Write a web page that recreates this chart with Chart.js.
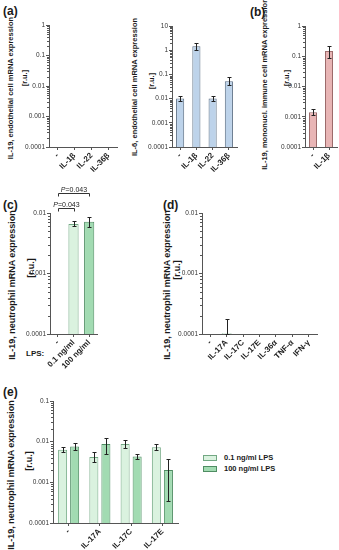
<!DOCTYPE html>
<html>
<head>
<meta charset="utf-8">
<script src="https://cdn.jsdelivr.net/npm/chart.js@4.4.1/dist/chart.umd.min.js"></script>
<style>
  html, body { margin: 0; padding: 0; background: #fff; }
  body { width: 339px; height: 550px; position: relative; overflow: hidden;
         font-family: "Liberation Sans", Arial, sans-serif; color: #1a1a1a; }
  canvas { position: absolute; }
  .tag { position: absolute; font-weight: bold; font-size: 12px; line-height: 12px; }
  /* fixed 200x10 box centred on left/top, then turned */
  .yline { position: absolute; width: 200px; height: 10px; line-height: 10px;
           margin-left: -100px; margin-top: -5px; text-align: center;
           font-weight: bold; white-space: nowrap; transform: rotate(-90deg); }
  .legend { position: absolute; font-weight: bold; font-size: 7.5px; }
  .legend div { display: flex; align-items: center; height: 11px; }
  .legend span.box { display: inline-block; width: 12px; height: 4px; margin-right: 7px; border: 1px solid; }
</style>
</head>
<body>
<div class="tag" style="left:3px;top:5px">(a)</div>
<div class="tag" style="left:250px;top:6px">(b)</div>
<div class="tag" style="left:3px;top:199px">(c)</div>
<div class="tag" style="left:163px;top:199px">(d)</div>
<div class="tag" style="left:3px;top:386px">(e)</div>

<!-- y axis titles, one rotated line each: centre x / centre y -->
<div class="yline" style="left:11px;top:88px;font-size:7.5px">IL-19, endothelial cell mRNA expression</div>
<div class="yline" style="left:25px;top:78px;font-size:7.5px">[r.u.]</div>
<div class="yline" style="left:135px;top:87px;font-size:7.5px">IL-6, endothelial cell mRNA expression</div>
<div class="yline" style="left:152px;top:81px;font-size:7.5px">[r.u.]</div>
<div class="yline" style="left:265px;top:84px;font-size:7.5px">IL-19, mononucl. immune cell mRNA expression</div>
<div class="yline" style="left:287px;top:78px;font-size:7.5px">[r.u.]</div>
<div class="yline" style="left:12px;top:285px;font-size:9px">IL-19, neutrophil mRNA expression</div>
<div class="yline" style="left:31px;top:268px;font-size:9px">[r.u.]</div>
<div class="yline" style="left:167px;top:285px;font-size:9px">IL-19, neutrophil mRNA expression</div>
<div class="yline" style="left:177px;top:270px;font-size:9px">[r.u.]</div>
<div class="yline" style="left:11px;top:475px;font-size:9px">IL-19, neutrophil mRNA expression</div>
<div class="yline" style="left:29px;top:461px;font-size:9px">[r.u.]</div>

<div class="tag" style="left:26px;top:348px;font-size:8px">LPS:</div>

<canvas id="chartA"></canvas>
<canvas id="chartIL6"></canvas>
<canvas id="chartB"></canvas>
<canvas id="chartC"></canvas>
<canvas id="chartD"></canvas>
<canvas id="chartE"></canvas>
<div class="legend" id="legendE" style="left:203px;top:452px"></div>

<script>
// ---- data ----
const aLabels = ['-', 'IL-1β', 'IL-22', 'IL-36β'];
const aValues = [null, null, null, null];
const aTicks = [0.0001, 0.001, 0.01, 0.1, 1];

const il6Labels = ['-', 'IL-1β', 'IL-22', 'IL-36β'];
const il6Values = [0.0102, 1.45, 0.0101, 0.052];
const il6Low = [0.0082, 1.0, 0.0081, 0.036];
const il6High = [0.0133, 2.0, 0.013, 0.078];
const il6Ticks = [0.0001, 0.001, 0.01, 0.1, 1, 10];

const bLabels = ['-', 'IL-1β'];
const bValues = [0.0014, 0.15];
const bLow = [0.0011, 0.085];
const bHigh = [0.0018, 0.225];
const bTicks = [0.0001, 0.001, 0.01, 0.1, 1];

const cLabels = ['-', '0.1 ng/ml', '100 ng/ml'];
const cValues = [null, 0.0066, 0.0072];
const cLow = [null, 0.006, 0.0059];
const cHigh = [null, 0.0073, 0.0086];
const cTicks = [0.0001, 0.001, 0.01];

const dLabels = ['-', 'IL-17A', 'IL-17C', 'IL-17E', 'IL-36α', 'TNF-α', 'IFN-γ'];
const dValues = [null, 0.000103, null, null, null, null, null];
const dLow = [null, 0.0001, null, null, null, null, null];
const dHigh = [null, 0.00018, null, null, null, null, null];
const dTicks = [0.0001, 0.001, 0.01];

const eLabels = ['-', 'IL-17A', 'IL-17C', 'IL-17E'];
const eLowLps = [0.0063, 0.0042, 0.0088, 0.0073];
const eLowLpsLo = [0.0055, 0.0031, 0.0068, 0.0061];
const eLowLpsHi = [0.0072, 0.0055, 0.011, 0.0088];
const eHighLps = [0.0076, 0.0088, 0.0043, 0.002];
const eHighLpsLo = [0.0063, 0.005, 0.0038, 0.00035];
const eHighLpsHi = [0.0092, 0.0123, 0.0049, 0.0037];
const eTicks = [0.0001, 0.001, 0.01, 0.1];

const FONT = '"Liberation Sans", Arial, sans-serif';
Chart.defaults.font.family = FONT;
Chart.defaults.color = '#222';

// error bars from dataset.errLow / errHigh
const errorBars = {
  id: 'errorBars',
  afterDatasetsDraw(chart) {
    const ctx = chart.ctx, y = chart.scales.y;
    chart.data.datasets.forEach((ds, i) => {
      if (!ds.errLow) return;
      chart.getDatasetMeta(i).data.forEach((bar, j) => {
        const lo = ds.errLow[j], hi = ds.errHigh[j];
        if (lo == null || hi == null) return;
        const x = Math.round(bar.x) + 0.5;
        const y1 = Math.round(y.getPixelForValue(lo)) + 0.5;
        const y2 = Math.round(y.getPixelForValue(hi)) + 0.5;
        ctx.save();
        ctx.strokeStyle = '#222';
        ctx.lineWidth = 1;
        ctx.beginPath();
        ctx.moveTo(x, y1); ctx.lineTo(x, y2);
        ctx.moveTo(x - 2, y1); ctx.lineTo(x + 2, y1);
        ctx.moveTo(x - 2, y2); ctx.lineTo(x + 2, y2);
        ctx.stroke();
        ctx.restore();
      });
    });
  }
};

// short minor ticks on the log axis
const minorTicks = {
  id: 'minorTicks',
  afterDraw(chart) {
    const s = chart.scales.y, ctx = chart.ctx;
    const d0 = Math.round(Math.log10(s.min)), d1 = Math.round(Math.log10(s.max));
    ctx.save();
    ctx.strokeStyle = '#555';
    ctx.lineWidth = 1;
    ctx.beginPath();
    for (let d = d0; d < d1; d++) {
      for (let k = 2; k <= 9; k++) {
        const py = Math.round(s.getPixelForValue(k * Math.pow(10, d))) + 0.5;
        ctx.moveTo(s.right - 2, py); ctx.lineTo(s.right, py);
      }
    }
    ctx.stroke();
    ctx.restore();
  }
};

// significance brackets (offsets above the plot area)
const bracketPlugin = (list) => ({
  id: 'brackets',
  afterDraw(chart) {
    const ctx = chart.ctx, x = chart.scales.x, top = chart.chartArea.top;
    ctx.save();
    ctx.strokeStyle = '#333';
    ctx.fillStyle = '#222';
    ctx.lineWidth = 1;
    list.forEach(b => {
      const x1 = Math.round(x.getPixelForValue(b.from)) + 0.5;
      const x2 = Math.round(x.getPixelForValue(b.to)) + 0.5;
      const yy = Math.round(top - b.above) + 0.5;
      ctx.beginPath();
      ctx.moveTo(x1, yy + 3); ctx.lineTo(x1, yy); ctx.lineTo(x2, yy); ctx.lineTo(x2, yy + 3);
      ctx.stroke();
      ctx.font = 'italic 7px ' + FONT;
      const wp = ctx.measureText('P').width;
      ctx.font = '7px ' + FONT;
      const wr = ctx.measureText(b.text).width;
      let tx = (x1 + x2) / 2 - (wp + wr) / 2;
      ctx.textBaseline = 'alphabetic';
      ctx.font = 'italic 7px ' + FONT;
      ctx.fillText('P', tx, yy - 2);
      ctx.font = '7px ' + FONT;
      ctx.fillText(b.text, tx + wp, yy - 2);
    });
    ctx.restore();
  }
});

function makePanel(id, area, labels, datasets, yTicks, extra) {
  const e = extra || {};
  const yW = e.yW || 40, xH = e.xH || 40, padT = e.padT || 8, padR = e.padR || 6;
  const cv = document.getElementById(id);
  const w = yW + area.w + padR, h = padT + area.h + xH;
  cv.width = w; cv.height = h;
  cv.style.left = (area.x - yW) + 'px';
  cv.style.top = (area.y - padT) + 'px';
  cv.style.width = w + 'px';
  cv.style.height = h + 'px';
  const plugins = [errorBars, minorTicks];
  if (e.brackets) plugins.push(bracketPlugin(e.brackets));
  return new Chart(cv, {
    type: 'bar',
    data: { labels: labels, datasets: datasets },
    options: {
      responsive: false,
      animation: false,
      layout: { padding: { top: padT, right: padR, left: 0, bottom: 0 } },
      plugins: { legend: { display: false }, tooltip: { enabled: false } },
      scales: {
        x: {
          offset: true,
          afterFit: s => { s.height = xH; },
          ticks: { autoSkip: false, maxRotation: 45, minRotation: 45, padding: 1,
                   font: { size: 8, weight: 'bold' }, color: '#222' },
          grid: { offset: false, drawOnChartArea: false, tickLength: 3, color: '#555' },
          border: { color: '#555', width: 1 }
        },
        y: {
          type: 'logarithmic',
          min: yTicks[0],
          max: yTicks[yTicks.length - 1],
          afterFit: s => { s.width = yW; },
          afterBuildTicks: s => { s.ticks = yTicks.map(v => ({ value: v })); },
          ticks: { autoSkip: false, padding: 1, font: { size: 6.5 }, color: '#333',
                   callback: v => String(v) },
          grid: { drawOnChartArea: false, tickLength: 3, color: '#555' },
          border: { color: '#555', width: 1 }
        }
      }
    },
    plugins: plugins
  });
}

const blue = { backgroundColor: '#bdd3ea', borderColor: '#5c6f85', borderWidth: 1 };
const pink = { backgroundColor: '#e8b5b5', borderColor: '#9c6b6b', borderWidth: 1 };
const greenLight = { backgroundColor: '#daf2df', borderColor: '#72a883', borderWidth: 1 };
const greenDark = { backgroundColor: '#a2dbb2', borderColor: '#4f8d63', borderWidth: 1 };

makePanel('chartA', { x: 49, y: 25, w: 68, h: 122 }, aLabels,
  [Object.assign({ data: aValues, barPercentage: 0.5, categoryPercentage: 1 }, blue)], aTicks);

makePanel('chartIL6', { x: 172, y: 26, w: 65, h: 121 }, il6Labels,
  [Object.assign({ data: il6Values, errLow: il6Low, errHigh: il6High,
                   barPercentage: 0.5, categoryPercentage: 1 }, blue)], il6Ticks);

makePanel('chartB', { x: 305, y: 26, w: 32, h: 121 }, bLabels,
  [Object.assign({ data: bValues, errLow: bLow, errHigh: bHigh,
                   barPercentage: 0.5, categoryPercentage: 1 }, pink)], bTicks, { padR: 2 });

makePanel('chartC', { x: 50, y: 213, w: 47, h: 121 }, cLabels,
  [{ data: cValues, errLow: cLow, errHigh: cHigh, barPercentage: 0.65, categoryPercentage: 1,
     backgroundColor: ['#fff', greenLight.backgroundColor, greenDark.backgroundColor],
     borderColor: ['#fff', greenLight.borderColor, greenDark.borderColor], borderWidth: 1 }],
  cTicks, { padT: 33, xH: 45,
            brackets: [{ from: 0, to: 1, above: 5, text: '=0.043' },
                       { from: 0, to: 2, above: 20, text: '=0.043' }] });

makePanel('chartD', { x: 202, y: 213, w: 115, h: 121 }, dLabels,
  [Object.assign({ data: dValues, errLow: dLow, errHigh: dHigh,
                   barPercentage: 0.6, categoryPercentage: 1 }, greenLight)], dTicks);

const eDatasets = [
  Object.assign({ label: '0.1 ng/ml LPS', data: eLowLps, errLow: eLowLpsLo, errHigh: eLowLpsHi,
                  barPercentage: 0.75, categoryPercentage: 0.77 }, greenLight),
  Object.assign({ label: '100 ng/ml LPS', data: eHighLps, errLow: eHighLpsLo, errHigh: eHighLpsHi,
                  barPercentage: 0.75, categoryPercentage: 0.77 }, greenDark)
];
makePanel('chartE', { x: 53, y: 401, w: 125, h: 122 }, eLabels, eDatasets, eTicks,
  { yW: 45, xH: 27 });

// html legend for (e), built from the datasets
const legendE = document.getElementById('legendE');
eDatasets.forEach(ds => {
  const row = document.createElement('div');
  const box = document.createElement('span');
  box.className = 'box';
  box.style.background = ds.backgroundColor;
  box.style.borderColor = ds.borderColor;
  row.appendChild(box);
  row.appendChild(document.createTextNode(ds.label));
  legendE.appendChild(row);
});
</script>
</body>
</html>
